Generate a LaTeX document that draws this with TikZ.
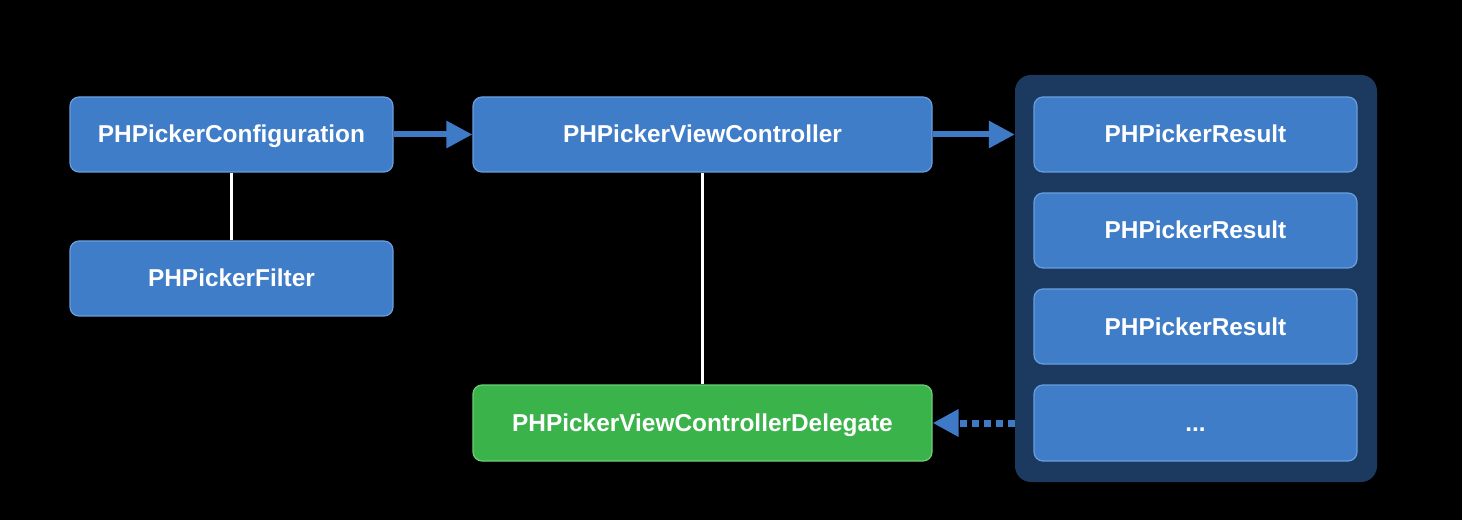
\documentclass[tikz,border=0pt]{standalone}
\usepackage{fontspec}
\setmainfont{Liberation Sans}
\usetikzlibrary{arrows.meta}
\definecolor{boxblue}{RGB}{64,125,200}
\definecolor{boxedge}{RGB}{104,158,222}
\definecolor{dlggreen}{RGB}{58,180,74}
\definecolor{dlgedge}{RGB}{110,205,120}
\definecolor{framebg}{RGB}{28,58,95}
\definecolor{arrowblue}{RGB}{62,122,198}
\begin{document}
\begin{tikzpicture}[x=1pt, y=1pt, >={Triangle[length=26pt,width=26pt]},
  font=\fontsize{24.4}{28}\selectfont\bfseries, line join=round,
  box/.style={draw=boxedge, fill=boxblue, line width=1.2pt, rounded corners=9pt,
    text=white, minimum height=75pt, inner sep=0pt, text height=17pt, text depth=0pt},
  frame/.style={fill=framebg, rounded corners=16pt, inner sep=0pt},
  flow/.style={arrowblue, line width=6pt},
  link/.style={white, line width=3pt}]
\fill[black] (0,0) rectangle (1462,520);
\useasboundingbox (0,0) rectangle (1462,520);
% result list
\node[frame, minimum width=362pt, minimum height=407pt] (R) at (1196,241.5) {};
\foreach \n/\y in {1/385.5,2/289.5,3/193.5}
  \node[box, minimum width=323pt] (res\n) at (1195.5,\y) {PHPickerResult};
\node[box, minimum width=323pt, minimum height=76pt] (res4) at (1195.5,97) {...};
% picker
\node[box, minimum width=323pt] (conf) at (231.5,385.5) {PHPickerConfiguration};
\node[box, minimum width=323pt] (filter) at (231.5,241.5) {PHPickerFilter};
\node[box, minimum width=459pt] (vc) at (702.5,385.5) {PHPickerViewController};
\node[box, draw=dlgedge, fill=dlggreen, minimum width=459pt, minimum height=76pt] (dlg) at (702.5,97) {PHPickerViewControllerDelegate};
\draw[link] (conf) -- (filter) (vc) -- (dlg);
\draw[flow,->] (conf) -- (vc);
\draw[flow,->] (vc.east) -- (vc.east -| R.west);
\draw[flow,->,line width=7pt,dash pattern=on 7pt off 5pt] (res4.west -| R.west) -- (dlg.east);
\end{tikzpicture}
\end{document}
